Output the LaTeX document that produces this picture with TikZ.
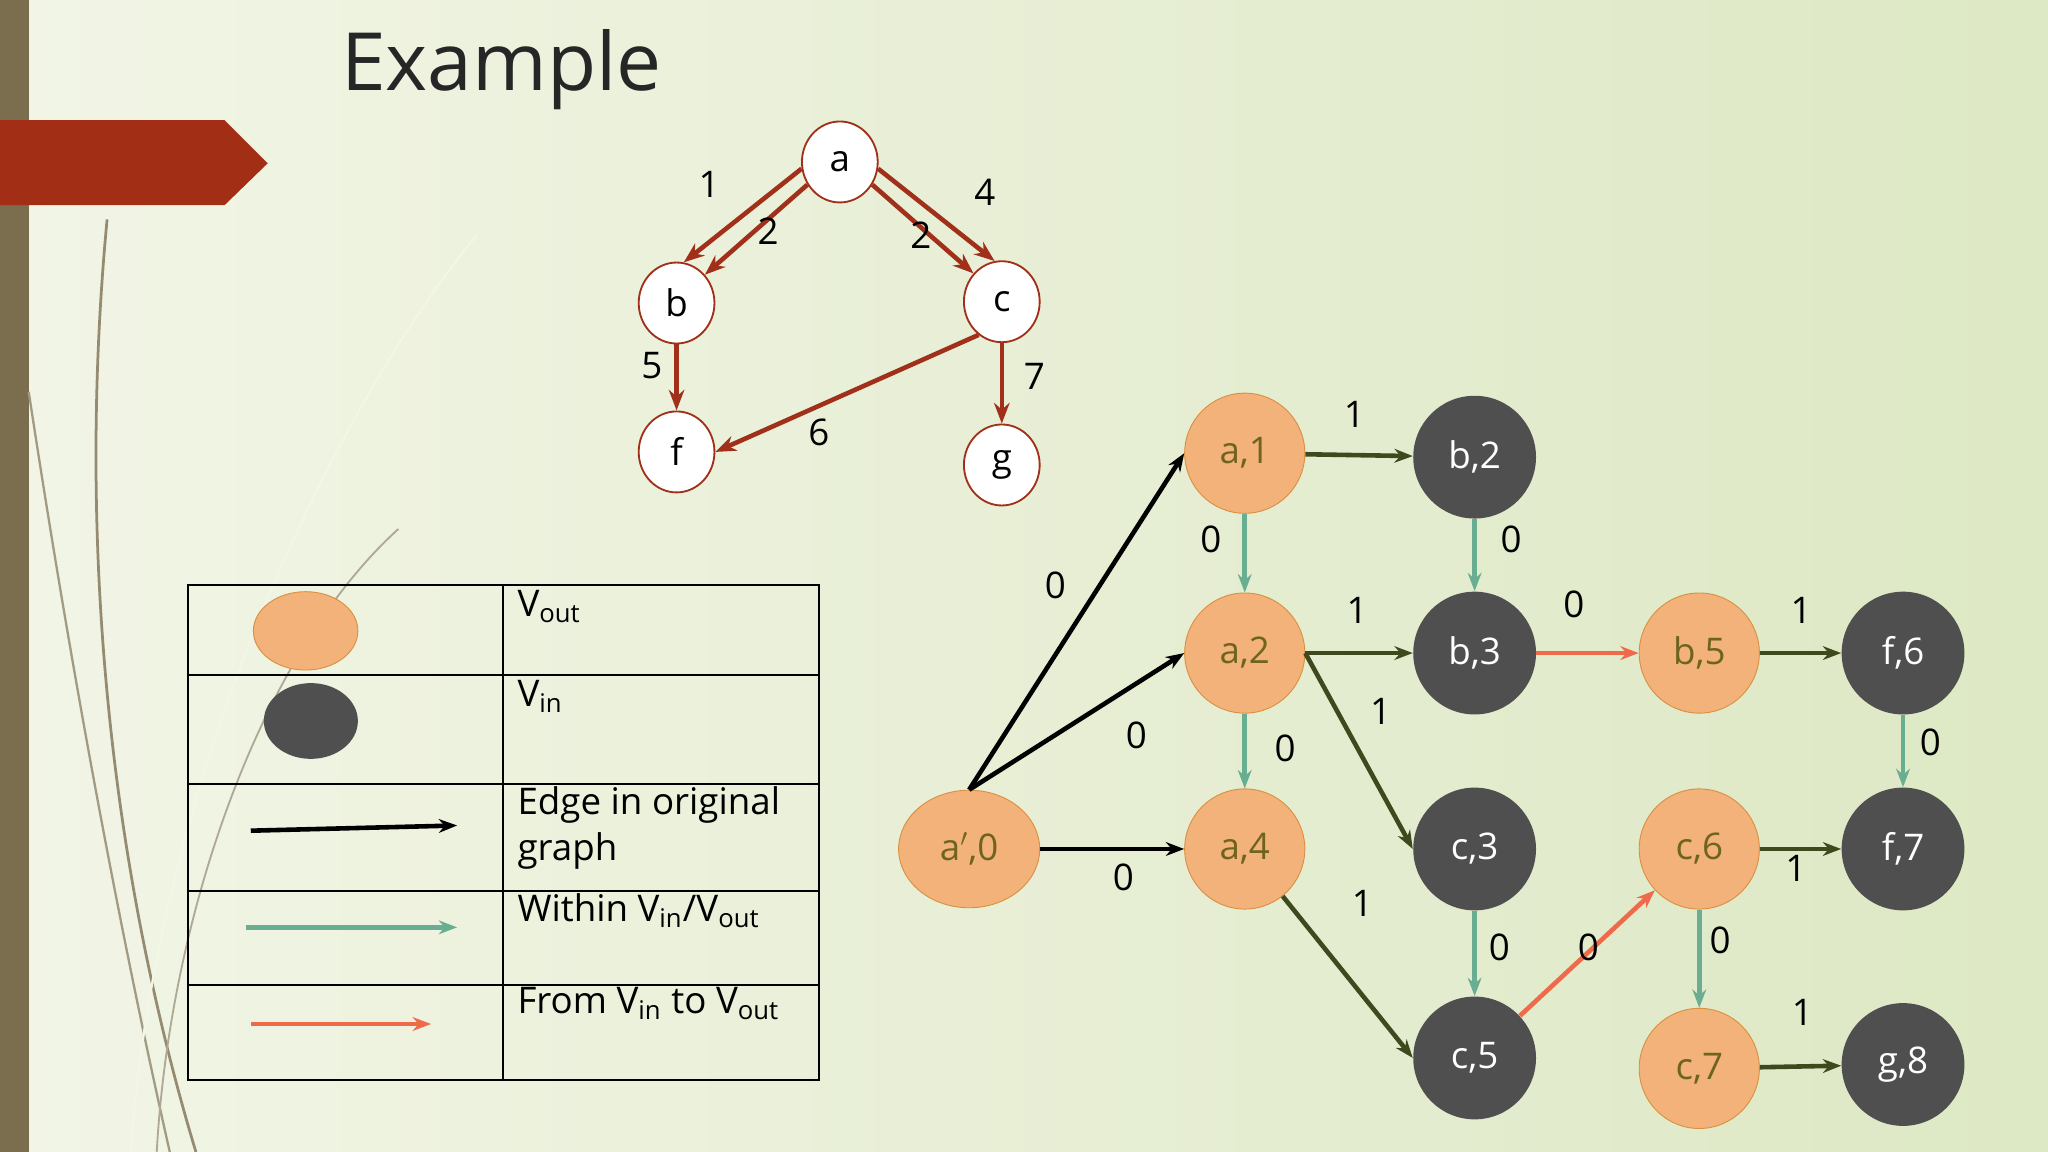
\documentclass[tikz,border=0pt]{standalone}
\usepackage{fontspec}
\setmainfont{Open Sans}
\usetikzlibrary{arrows.meta,shadings}
\definecolor{bgA}{HTML}{F2F5E6}
\definecolor{bgB}{HTML}{DDE8C4}
\definecolor{barcol}{HTML}{7A6E4E}
\definecolor{redtab}{HTML}{A32E16}
\definecolor{tree}{HTML}{A0301A}
\definecolor{vout}{HTML}{F2B27A}
\definecolor{voutline}{HTML}{D99040}
\definecolor{vin}{HTML}{4F4F4F}
\definecolor{olive}{HTML}{3E4A1E}
\definecolor{teal}{HTML}{6AAE92}
\definecolor{coral}{HTML}{EE6A4A}
\definecolor{outtxt}{HTML}{6E6420}
\tikzset{
  small/.style={draw=tree, thick, fill=white, ellipse, minimum width=58*0.02cm, minimum height=62*0.02cm, inner sep=0pt, font=\fontsize{16}{16}\selectfont},
  outn/.style={draw=voutline, fill=vout, circle, minimum size=92*0.02cm, inner sep=0pt, text=outtxt, font=\fontsize{16}{16}\selectfont},
  inn/.style={fill=vin, circle, minimum size=94*0.02cm, inner sep=0pt, text=white, font=\fontsize{16}{16}\selectfont},
  tr/.style={tree, line width=2pt, -{Stealth[length=9pt]}},
  orig/.style={black, line width=2pt, -{Stealth[length=8pt]}},
  ol/.style={olive, line width=2pt, -{Stealth[length=8pt]}},
  wi/.style={teal, line width=2pt, -{Stealth[length=8pt]}},
  ft/.style={coral, line width=2pt, -{Stealth[length=8pt]}},
  lab/.style={font=\fontsize{16}{20}\selectfont}
}
\usetikzlibrary{shapes.geometric}
\begin{document}
\begin{tikzpicture}[x=0.02cm,y=-0.02cm]
  % background
  \shade[left color=bgA, right color=bgB] (0,0) rectangle (1568,882);
  \useasboundingbox (0,0) rectangle (1568,882);
  \fill[barcol] (0,0) rectangle (22,882);
  \fill[redtab] (0,92) -- (172,92) -- (205,125) -- (172,157) -- (0,157) -- cycle;
  \draw[barcol!80, line width=1.2pt] (82,168) .. controls (60,400) and (80,650) .. (150,882);
  \draw[barcol!70, line width=1pt] (22,300) .. controls (60,550) and (100,750) .. (130,882);
  \draw[barcol!60, line width=0.8pt] (305,405) .. controls (200,500) and (130,700) .. (120,882);
  \draw[white!60!bgB, line width=1pt] (365,180) .. controls (250,320) and (120,600) .. (100,882);
  \node[font=\fontsize{35}{35}\selectfont, text=black!85, anchor=west] (title) at (255,53) {Example};

  % original graph
  \node[small] (a) at (643,124) {a};
  \node[small] (b) at (518,232) {b};
  \node[small] (c) at (767,231) {c};
  \node[small] (f) at (518,346) {f};
  \node[small] (g) at (767,356) {g};
  \draw[tr] (a.190) -- (b.80);
  \draw[tr] (a.215) -- (b.45);
  \draw[tr] (a.-35) -- (c.135);
  \draw[tr] (a.-10) -- (c.100);
  \draw[tr] (b) -- (f);
  \draw[tr] (c.235) -- (f.east);
  \draw[tr] (c) -- (g);
  \node[lab] at (543,141) {1};
  \node[lab] at (588,177) {2};
  \node[lab] at (705,180) {2};
  \node[lab] at (754,147) {4};
  \node[lab] at (499,280) {5};
  \node[lab] at (627,331) {6};
  \node[lab] at (792,288) {7};

  % expanded graph
  \node[outn] (a1) at (953,347) {a,1};
  \node[inn] (b2) at (1129,350) {b,2};
  \node[outn] (a2) at (953,500) {a,2};
  \node[inn] (b3) at (1129,500) {b,3};
  \node[outn] (b5) at (1301,500) {b,5};
  \node[inn] (f6) at (1457,500) {f,6};
  \node[outn, ellipse, minimum width=108*0.02cm, minimum height=90*0.02cm] (a0) at (742,650) {a$'$,0};
  \node[outn] (a4) at (953,650) {a,4};
  \node[inn] (c3) at (1129,650) {c,3};
  \node[outn] (c6) at (1301,650) {c,6};
  \node[inn] (f7) at (1457,650) {f,7};
  \node[inn] (c5) at (1129,810) {c,5};
  \node[outn] (c7) at (1301,818) {c,7};
  \node[inn] (g8) at (1457,815) {g,8};

  \draw[orig] (a0.north) -- (a1.west);
  \draw[orig] (a0.north) -- (a2.west);
  \draw[orig] (a0) -- (a4);
  \draw[ol] (a1) -- (b2);
  \draw[wi] (a1) -- (a2);
  \draw[wi] (b2) -- (b3);
  \draw[ol] (a2) -- (b3);
  \draw[wi] (a2) -- (a4);
  \draw[ol] (a2.east) -- (c3.west);
  \draw[ft] (b3) -- (b5);
  \draw[ol] (b5) -- (f6);
  \draw[wi] (f6) -- (f7);
  \draw[ol] (a4) -- (c5.west);
  \draw[wi] (c3) -- (c5);
  \draw[ft] (c5) -- (c6);
  \draw[ol] (c6) -- (f7);
  \draw[wi] (c6) -- (c7);
  \draw[ol] (c7) -- (g8);
  \node[lab] at (808,448) {0};
  \node[lab] at (870,563) {0};
  \node[lab] at (860,672) {0};
  \node[lab] at (1037,317) {1};
  \node[lab] at (927,413) {0};
  \node[lab] at (1157,413) {0};
  \node[lab] at (1039,467) {1};
  \node[lab] at (984,573) {0};
  \node[lab] at (1057,545) {1};
  \node[lab] at (1205,463) {0};
  \node[lab] at (1379,467) {1};
  \node[lab] at (1478,568) {0};
  \node[lab] at (1043,692) {1};
  \node[lab] at (1148,725) {0};
  \node[lab] at (1216,725) {0};
  \node[lab] at (1375,665) {1};
  \node[lab] at (1317,720) {0};
  \node[lab] at (1380,775) {1};

  % legend
  \draw[thick] (144,448) rectangle (627,827);
  \draw[thick] (385,448) -- (385,827);
  \foreach \y in {517,600,682,754} {
    \draw[thick] (144,\y) -- (627,\y);
  }
  \node[draw=voutline, fill=vout, ellipse, minimum width=80*0.02cm, minimum height=60*0.02cm] (lo) at (234,483) {};
  \node[fill=vin, ellipse, minimum width=72*0.02cm, minimum height=58*0.02cm] (li) at (238,552) {};
  \coordinate (e1) at (192,636); \coordinate (e2) at (350,632);
  \coordinate (w1) at (188,710); \coordinate (w2) at (350,710);
  \coordinate (r1) at (192,784); \coordinate (r2) at (330,784);
  \draw[orig] (e1) -- (e2);
  \draw[wi] (w1) -- (w2);
  \draw[ft] (r1) -- (r2);
  \node[lab, anchor=north west] (t1) at (390,446) {V\textsubscript{out}};
  \node[lab, anchor=north west] (t2) at (390,515) {V\textsubscript{in}};
  \node[lab, anchor=north west, align=left] (t3) at (390,596) {Edge in original\\graph};
  \node[lab, anchor=north west] (t4) at (390,678) {Within V\textsubscript{in}/V\textsubscript{out}};
  \node[lab, anchor=north west] (t5) at (390,750) {From V\textsubscript{in} to V\textsubscript{out}};
\end{tikzpicture}
\end{document}
